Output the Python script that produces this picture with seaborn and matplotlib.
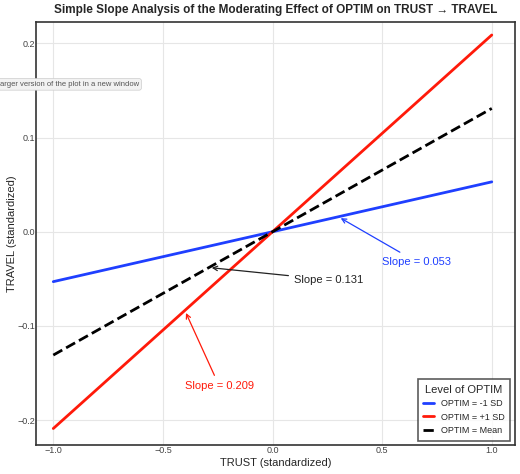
import matplotlib.pyplot as plt
import numpy as np
import pandas as pd
import seaborn as sns

trust = [-1.0, 1.0]
labels = ["OPTIM = -1 SD", "OPTIM = +1 SD", "OPTIM = Mean"]
slopes = [0.053, 0.209, 0.131]
colors = ["#1f3fff", "#ff1a0a", "black"]
styles = ["-", "-", "--"]

rows = []
for lab, b in zip(labels, slopes):
    for x in trust:
        rows.append({"TRUST": x, "TRAVEL": b * x, "level": lab})
df = pd.DataFrame(rows)

sns.set_style("whitegrid")
plt.rcParams["font.family"] = ["Liberation Sans", "DejaVu Sans"]

fig = plt.figure(figsize=(5.2, 4.74), dpi=100)
ax = fig.add_axes([0.07, 0.061, 0.92, 0.893])
for lab, c, ls in zip(labels, colors, styles):
    sub = df[df["level"] == lab]
    sns.lineplot(data=sub, x="TRUST", y="TRAVEL", ax=ax, color=c, linestyle=ls,
                 linewidth=2, label=lab)

ax.set_xlim(-1.077, 1.105)
ax.set_ylim(-0.2266, 0.223)
ax.set_xticks([-1.0, -0.5, 0.0, 0.5, 1.0])
ax.set_yticks([-0.2, -0.1, 0.0, 0.1, 0.2])
ax.tick_params(labelsize=6.5, colors="#444444", length=0, pad=1)
ax.grid(color="#e6e6e6", linewidth=0.8)
for s in ax.spines.values():
    s.set_color("#333333")
    s.set_linewidth(1.2)
ax.set_xlabel("TRUST (standardized)", fontsize=8, labelpad=2)
ax.set_ylabel("TRAVEL (standardized)", fontsize=8, labelpad=0)
ax.set_title("Simple Slope Analysis of the Moderating Effect of OPTIM on TRUST \u2192 TRAVEL",
             fontsize=8.5, fontweight="bold", pad=6)

ann = [
    ("Slope = 0.053", (0.3, 0.3 * 0.053), (0.5, -0.032), colors[0], "left", "center"),
    ("Slope = 0.131", (-0.29, -0.29 * 0.131), (0.1, -0.051), "#222222", "left", "center"),
    ("Slope = 0.209", (-0.4, -0.4 * 0.209), (-0.4, -0.164), colors[1], "left", "center"),
]
for txt, xy, xyt, c, ha, va in ann:
    ax.annotate(txt, xy=xy, xytext=xyt, color=c, fontsize=8, ha=ha, va=va,
                arrowprops=dict(arrowstyle="->", color=c, lw=0.9))

leg = ax.legend(title="Level of OPTIM", loc="lower right", fontsize=6.5,
                title_fontsize=8, frameon=True, fancybox=False, handlelength=1.2,
                borderpad=0.6)
leg.get_frame().set_edgecolor("#333333")
leg.get_frame().set_linewidth(1.2)

fig.text(0.0, 0.822, "arger version of the plot in a new window", fontsize=5.5,
         color="#555555", va="center",
         bbox=dict(boxstyle="round,pad=0.3", fc="#f2f2f2", ec="#cccccc", lw=0.5))

fig.savefig("out.png", dpi=100)
